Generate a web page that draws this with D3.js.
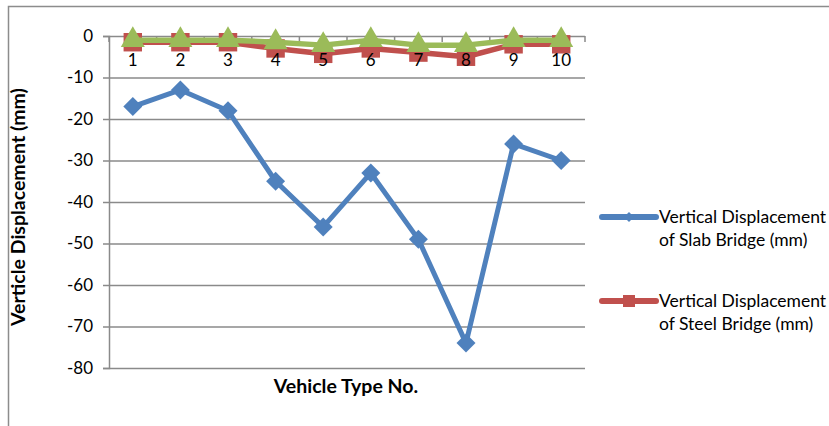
<!DOCTYPE html>
<html>
<head>
<meta charset="utf-8">
<script src="https://cdn.jsdelivr.net/npm/d3@7"></script>
<style>
  html, body { margin: 0; padding: 0; background: #fff; }
  svg { display: block; }
  text { font-family: Lato, "Open Sans", sans-serif; }
</style>
</head>
<body>
<svg id="chart" width="829" height="426"></svg>
<script>
// Vehicle types along the x axis
const categories = ["1", "2", "3", "4", "5", "6", "7", "8", "9", "10"];
// Vertical displacement per vehicle type (mm)
const slabValues  = [-17, -13, -18, -35, -46, -33, -49, -74, -26, -30];
const steelValues = [-1.5, -1.5, -1.5, -3, -4.3, -3, -4, -5, -2, -2];
const thirdValues = [-1, -1, -1, -1.5, -2.2, -1, -2.2, -2.2, -1, -1];
const yTicks = [0, -10, -20, -30, -40, -50, -60, -70, -80];
const seriesNames = [
  ["Vertical Displacement", "of Slab Bridge (mm)"],
  ["Vertical Displacement", "of Steel Bridge (mm)"]
];

const svg = d3.select("#chart");
const plot = { left: 109, right: 585, top: 36, bottom: 368 };
const gridColor = "#8a8a8a";

// outer chart frame (top and left edges)
svg.append("path")
  .attr("d", "M8.5,426 V6.5 H829")
  .attr("fill", "none").attr("stroke", "#8c8c8c").attr("stroke-width", 1.5);

const x = d3.scaleBand().domain(categories).range([plot.left, plot.right]);
const y = d3.scaleLinear().domain([-80, 0]).range([plot.bottom, plot.top]);
const cx = d => x(d) + x.bandwidth() / 2;

// horizontal gridlines + left axis
const yAxis = d3.axisLeft(y).tickValues(yTicks).tickSize(6).tickPadding(10)
  .tickFormat(d => String(d));
const gy = svg.append("g").attr("transform", `translate(${plot.left},0)`).call(yAxis);
gy.select(".domain").attr("stroke", gridColor).attr("stroke-width", 1.5);
gy.selectAll(".tick line").attr("stroke", gridColor).attr("stroke-width", 1.5);
gy.selectAll(".tick text").attr("font-size", 17).attr("fill", "#000")
  .attr("font-family", "Lato, sans-serif");
gy.selectAll(".tick").append("line")
  .attr("x1", 0).attr("x2", plot.right - plot.left)
  .attr("stroke", gridColor).attr("stroke-width", 1.5);

// tick marks at category boundaries on the zero line
const bounds = categories.map(c => x(c)).concat([plot.right]);
svg.append("g").attr("transform", `translate(0,${y(0)})`)
  .selectAll("line").data(bounds).enter().append("line")
  .attr("x1", d => d).attr("x2", d => d).attr("y1", 0).attr("y2", 6)
  .attr("stroke", gridColor).attr("stroke-width", 1.5);

// axis titles
svg.append("text")
  .attr("transform", "translate(25,207) rotate(-90)")
  .attr("text-anchor", "middle")
  .attr("font-size", 19.5).attr("font-weight", "bold")
  .text("Verticle Displacement (mm)");
svg.append("text")
  .attr("x", 346).attr("y", 393)
  .attr("text-anchor", "middle")
  .attr("font-size", 19.5).attr("font-weight", "bold")
  .text("Vehicle Type No.");

const line = d3.line().x((d, i) => cx(categories[i])).y(d => y(d));

function drawSeries(values, color, symbolType, size, lw, rot) {
  const g = svg.append("g");
  g.append("path").datum(values)
    .attr("d", line).attr("fill", "none")
    .attr("stroke", color).attr("stroke-width", lw)
    .attr("stroke-linejoin", "round");
  g.selectAll("path.mk").data(values).enter().append("path")
    .attr("class", "mk")
    .attr("transform", (d, i) => `translate(${cx(categories[i])},${y(d)}) rotate(${rot})`)
    .attr("d", d3.symbol().type(symbolType).size(size))
    .attr("fill", color);
}

drawSeries(slabValues, "#4F81BD", d3.symbolSquare, 180, 5, 45);
drawSeries(steelValues, "#C0504D", d3.symbolSquare, 340, 5.5, 0);
drawSeries(thirdValues, "#9BBB59", d3.symbolTriangle, 250, 5.5, 0);

// category labels sit on top of the series
const xAxis = d3.axisBottom(x).tickSize(0).tickPadding(18);
const gx = svg.append("g").attr("transform", `translate(0,${y(0)})`).call(xAxis);
gx.select(".domain").remove();
gx.selectAll(".tick text").attr("font-size", 17).attr("fill", "#000")
  .attr("font-family", "Lato, sans-serif");

// legend
const legend = [
  { color: "#4F81BD", sym: d3.symbolSquare, size: 50, rot: 45, y: 217, names: seriesNames[0] },
  { color: "#C0504D", sym: d3.symbolSquare, size: 144, rot: 0, y: 301, names: seriesNames[1] }
];
legend.forEach(l => {
  svg.append("line")
    .attr("x1", 602).attr("x2", 656).attr("y1", l.y).attr("y2", l.y)
    .attr("stroke", l.color).attr("stroke-width", 6).attr("stroke-linecap", "round");
  svg.append("path")
    .attr("transform", `translate(629,${l.y}) rotate(${l.rot})`)
    .attr("d", d3.symbol().type(l.sym).size(l.size)).attr("fill", l.color);
  const t = svg.append("text").attr("x", 659).attr("y", l.y + 6)
    .attr("font-size", 17.5).attr("fill", "#000");
  t.append("tspan").attr("x", 659).text(l.names[0]);
  t.append("tspan").attr("x", 659).attr("dy", 23).text(l.names[1]);
});
</script>
</body>
</html>
